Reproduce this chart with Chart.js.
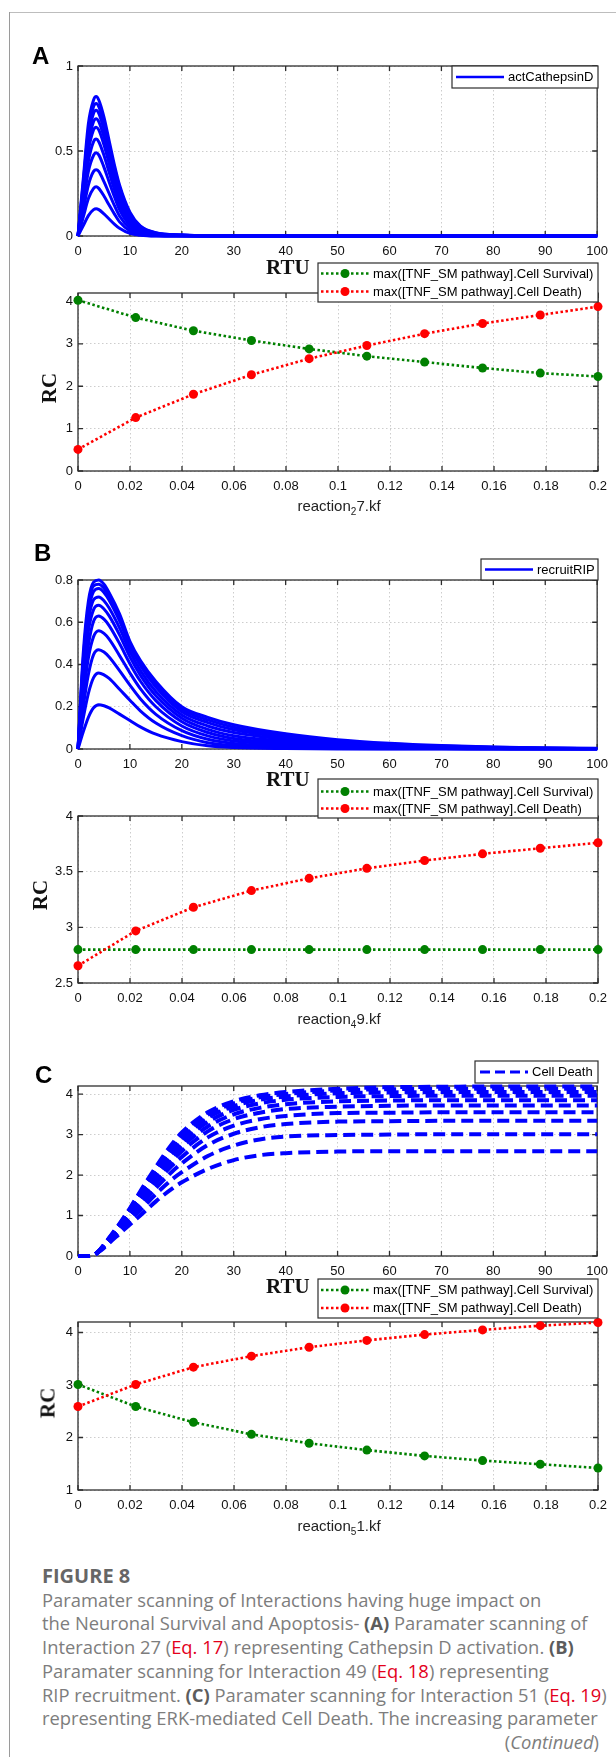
<!DOCTYPE html>
<html>
<head>
<meta charset="utf-8">
<script src="https://cdn.jsdelivr.net/npm/chart.js@4.4.1/dist/chart.umd.min.js"></script>
<style>
body { margin: 0; background: #fff; }
#page { position: relative; width: 616px; height: 1757px; overflow: hidden; background: #fff; }
#page canvas { position: absolute; left: 0; }
.rule-top { position: absolute; left: 9px; top: 12px; width: 607px; height: 1px; background: #bdbdbd; }
.rule-left { position: absolute; left: 9px; top: 12px; width: 1px; height: 1745px; background: #9a9a9a; }
.panel { position: absolute; font: bold 24px "Liberation Sans", Arial, sans-serif; line-height: 24px; color: #000; }
.rtu { position: absolute; left: 266px; font: bold 21px "Liberation Serif", serif; line-height: 21px; color: #111; }
.rc { position: absolute; font: bold 21px "Liberation Serif", serif; line-height: 21px; color: #111; transform: translate(-50%, -50%) rotate(-90deg); white-space: nowrap; }
.xl { position: absolute; left: 339px; font: 15px "Liberation Sans", Arial, sans-serif; line-height: 15px; color: #222; transform: translateX(-50%); white-space: nowrap; }
.xl sub { font-size: 10px; vertical-align: -4px; line-height: 0; }
.caption { position: absolute; left: 42px; top: 1564px; width: 557px; font: 18.4px "Open Sans", sans-serif; line-height: 23.7px; color: #7d7d7d; white-space: nowrap; }
.caption .fig { font-weight: 700; font-size: 20px; color: #666; }
.caption b { color: #5c5c5c; font-weight: 700; }
.caption .eq { color: #e3001b; }
.caption .cont { text-align: right; }
</style>
</head>
<body>
<div id="page">
  <div class="rule-top"></div>
  <div class="rule-left"></div>

  <canvas id="chartA1" width="616" height="222" style="top:40px"></canvas>
  <canvas id="chartA2" width="616" height="265" style="top:255px"></canvas>
  <canvas id="chartB1" width="616" height="240" style="top:540px"></canvas>
  <canvas id="chartB2" width="616" height="260" style="top:770px"></canvas>
  <canvas id="chartC1" width="616" height="240" style="top:1050px"></canvas>
  <canvas id="chartC2" width="616" height="260" style="top:1270px"></canvas>

  <div class="panel" style="left:32px;top:44px">A</div>
  <div class="panel" style="left:34px;top:541px">B</div>
  <div class="panel" style="left:35px;top:1063px">C</div>

  <div class="rtu" style="top:257px">RTU</div>
  <div class="rtu" style="top:769px">RTU</div>
  <div class="rtu" style="top:1276px">RTU</div>

  <div class="rc" style="left:49px;top:388px">RC</div>
  <div class="rc" style="left:40px;top:895px">RC</div>
  <div class="rc" style="left:48px;top:1403px">RC</div>

  <div class="xl" style="top:498px">reaction<sub>2</sub>7.kf</div>
  <div class="xl" style="top:1011px">reaction<sub>4</sub>9.kf</div>
  <div class="xl" style="top:1518px">reaction<sub>5</sub>1.kf</div>

  <div class="caption" id="caption">
    <div class="fig">FIGURE 8</div>
    <div>Paramater scanning of Interactions having huge impact on</div>
    <div>the Neuronal Survival and Apoptosis- <b>(A)</b> Paramater scanning of</div>
    <div>Interaction 27 (<span class="eq">Eq. 17</span>) representing Cathepsin D activation. <b>(B)</b></div>
    <div>Paramater scanning for Interaction 49 (<span class="eq">Eq. 18</span>) representing</div>
    <div>RIP recruitment. <b>(C)</b> Paramater scanning for Interaction 51 (<span class="eq">Eq. 19</span>)</div>
    <div><span id="longLine">representing ERK-mediated Cell Death. The increasing parameter</span></div>
    <div class="cont">(<i>Continued</i>)</div>
  </div>
</div>

<script>
/* TIME COURSES (top plots) */

const timeA = [0, 1, 2, 3, 3.5, 4, 5, 6, 7, 8, 10, 12, 15, 20, 25, 100];
const cathepsinRuns = [
  [0, 0.06, 0.12, 0.155, 0.16, 0.155, 0.13, 0.10, 0.07, 0.045, 0.015, 0.004, 0, 0, 0, 0],
  [0, 0.11, 0.22, 0.28, 0.29, 0.28, 0.235, 0.182, 0.13, 0.083, 0.03, 0.009, 0.001, 0, 0, 0],
  [0, 0.15, 0.30, 0.38, 0.39, 0.38, 0.32, 0.25, 0.18, 0.118, 0.045, 0.014, 0.003, 0.001, 0, 0],
  [0, 0.19, 0.38, 0.475, 0.49, 0.477, 0.405, 0.318, 0.232, 0.155, 0.062, 0.021, 0.005, 0.001, 0, 0],
  [0, 0.22, 0.44, 0.555, 0.57, 0.555, 0.475, 0.375, 0.275, 0.188, 0.078, 0.028, 0.007, 0.002, 0, 0],
  [0, 0.25, 0.50, 0.625, 0.64, 0.624, 0.537, 0.426, 0.315, 0.219, 0.094, 0.036, 0.01, 0.003, 0.001, 0],
  [0, 0.27, 0.54, 0.673, 0.69, 0.673, 0.583, 0.464, 0.346, 0.243, 0.107, 0.043, 0.012, 0.004, 0.001, 0],
  [0, 0.29, 0.58, 0.722, 0.74, 0.722, 0.628, 0.503, 0.377, 0.267, 0.12, 0.05, 0.015, 0.005, 0.001, 0],
  [0, 0.31, 0.62, 0.761, 0.78, 0.761, 0.664, 0.534, 0.402, 0.288, 0.131, 0.056, 0.018, 0.006, 0.002, 0],
  [0, 0.33, 0.66, 0.80, 0.82, 0.80, 0.70, 0.56, 0.42, 0.30, 0.14, 0.06, 0.02, 0.006, 0.002, 0]
];

const timeB = [0, 1, 2, 3, 4, 5, 6, 8, 10, 12, 15, 20, 25, 30, 40, 50, 60, 70, 80, 90, 100];
const recruitRuns = [
  [0, 0.08, 0.15, 0.195, 0.21, 0.205, 0.195, 0.165, 0.135, 0.105, 0.07, 0.035, 0.015, 0.007, 0.002, 0, 0, 0, 0, 0, 0],
  [0, 0.144, 0.263, 0.338, 0.36, 0.351, 0.334, 0.283, 0.231, 0.181, 0.123, 0.063, 0.030, 0.016, 0.007, 0.002, 0.001, 0.001, 0, 0, 0],
  [0, 0.197, 0.353, 0.447, 0.47, 0.459, 0.436, 0.371, 0.302, 0.238, 0.164, 0.087, 0.046, 0.026, 0.013, 0.006, 0.003, 0.002, 0.001, 0, 0],
  [0, 0.241, 0.431, 0.532, 0.56, 0.547, 0.52, 0.442, 0.36, 0.286, 0.2, 0.109, 0.062, 0.038, 0.021, 0.01, 0.006, 0.004, 0.002, 0.001, 0.001],
  [0, 0.284, 0.491, 0.605, 0.63, 0.615, 0.584, 0.499, 0.404, 0.322, 0.229, 0.129, 0.078, 0.05, 0.029, 0.015, 0.009, 0.006, 0.003, 0.002, 0.001],
  [0, 0.333, 0.558, 0.66, 0.68, 0.663, 0.63, 0.54, 0.436, 0.35, 0.252, 0.146, 0.093, 0.063, 0.037, 0.021, 0.013, 0.007, 0.004, 0.002, 0.001],
  [0, 0.367, 0.605, 0.706, 0.72, 0.702, 0.667, 0.573, 0.462, 0.372, 0.272, 0.161, 0.109, 0.078, 0.046, 0.027, 0.017, 0.009, 0.005, 0.003, 0.002],
  [0, 0.403, 0.646, 0.745, 0.76, 0.741, 0.704, 0.606, 0.487, 0.395, 0.293, 0.176, 0.125, 0.091, 0.055, 0.033, 0.021, 0.012, 0.007, 0.004, 0.002],
  [0, 0.421, 0.671, 0.772, 0.78, 0.761, 0.722, 0.623, 0.499, 0.407, 0.307, 0.188, 0.138, 0.103, 0.063, 0.038, 0.023, 0.014, 0.008, 0.005, 0.002],
  [0, 0.45, 0.70, 0.79, 0.80, 0.78, 0.74, 0.64, 0.51, 0.42, 0.32, 0.20, 0.15, 0.115, 0.072, 0.044, 0.027, 0.016, 0.009, 0.005, 0.003]
];

const timeC = [0, 2, 3, 4, 5, 6, 8, 10, 12, 15, 18, 20, 25, 30, 35, 40, 50, 60, 70, 80, 100];
const deathRuns = [
  [0, 0, 0.02, 0.1, 0.2, 0.32, 0.55, 0.78, 1.0, 1.35, 1.65, 1.82, 2.15, 2.37, 2.49, 2.54, 2.58, 2.59, 2.59, 2.59, 2.59],
  [0, 0, 0.02, 0.11, 0.22, 0.35, 0.61, 0.88, 1.13, 1.53, 1.88, 2.07, 2.47, 2.73, 2.88, 2.95, 2.99, 3.0, 3.01, 3.01, 3.01],
  [0, 0, 0.02, 0.11, 0.23, 0.37, 0.65, 0.95, 1.23, 1.68, 2.07, 2.29, 2.74, 3.02, 3.18, 3.26, 3.32, 3.33, 3.34, 3.34, 3.34],
  [0, 0, 0.02, 0.11, 0.24, 0.39, 0.68, 1.0, 1.31, 1.8, 2.22, 2.45, 2.93, 3.22, 3.38, 3.46, 3.53, 3.54, 3.55, 3.55, 3.55],
  [0, 0, 0.02, 0.11, 0.25, 0.4, 0.71, 1.04, 1.38, 1.9, 2.34, 2.59, 3.08, 3.38, 3.54, 3.63, 3.69, 3.71, 3.72, 3.72, 3.72],
  [0, 0, 0.02, 0.12, 0.26, 0.41, 0.73, 1.08, 1.44, 1.98, 2.44, 2.7, 3.2, 3.5, 3.66, 3.75, 3.82, 3.84, 3.85, 3.85, 3.85],
  [0, 0, 0.02, 0.12, 0.26, 0.42, 0.75, 1.11, 1.49, 2.05, 2.53, 2.8, 3.31, 3.61, 3.77, 3.86, 3.93, 3.95, 3.96, 3.96, 3.96],
  [0, 0, 0.02, 0.12, 0.27, 0.43, 0.77, 1.14, 1.53, 2.11, 2.61, 2.89, 3.41, 3.7, 3.86, 3.94, 4.02, 4.04, 4.05, 4.05, 4.05],
  [0, 0, 0.02, 0.12, 0.27, 0.44, 0.78, 1.16, 1.57, 2.16, 2.69, 2.98, 3.49, 3.77, 3.92, 4.0, 4.09, 4.12, 4.13, 4.13, 4.13],
  [0, 0, 0.02, 0.12, 0.28, 0.45, 0.8, 1.18, 1.6, 2.2, 2.75, 3.05, 3.55, 3.82, 3.97, 4.05, 4.13, 4.17, 4.18, 4.19, 4.19]
];

/* PARAMETER SCANS (bottom plots) */

const kfValues = [0, 0.0222, 0.0444, 0.0667, 0.0889, 0.1111, 0.1333, 0.1556, 0.1778, 0.2];
const survivalA = [4.03, 3.62, 3.31, 3.08, 2.88, 2.71, 2.57, 2.43, 2.31, 2.23];
const deathA = [0.51, 1.26, 1.81, 2.27, 2.65, 2.96, 3.24, 3.48, 3.68, 3.88];
const survivalB = [2.8, 2.8, 2.8, 2.8, 2.8, 2.8, 2.8, 2.8, 2.8, 2.8];
const deathB = [2.655, 2.968, 3.18, 3.33, 3.44, 3.53, 3.60, 3.66, 3.71, 3.76];
const survivalC = [3.01, 2.59, 2.29, 2.06, 1.89, 1.76, 1.65, 1.56, 1.49, 1.42];
const deathC = [2.59, 3.01, 3.34, 3.55, 3.72, 3.85, 3.96, 4.05, 4.13, 4.19];

/* TICKS AND LABELS */

const rtuTicks = [0, 10, 20, 30, 40, 50, 60, 70, 80, 90, 100];
const kfTicks = [0, 0.02, 0.04, 0.06, 0.08, 0.1, 0.12, 0.14, 0.16, 0.18, 0.2];
const yTicksA1 = [0, 0.5, 1];
const yTicksA2 = [0, 1, 2, 3, 4];
const yTicksB1 = [0, 0.2, 0.4, 0.6, 0.8];
const yTicksB2 = [2.5, 3, 3.5, 4];
const yTicksC1 = [0, 1, 2, 3, 4];
const yTicksC2 = [1, 2, 3, 4];

const seriesNames = ["actCathepsinD", "recruitRIP", "Cell Death"];
const scanNames = ["max([TNF_SM pathway].Cell Survival)", "max([TNF_SM pathway].Cell Death)"];

const PLOT_LEFT = 78;
const PLOT_RIGHT = 598;
const BLUE = "#0000ff";
const GREEN = "#008000";
const RED = "#ff0000";
const FONT = "'Liberation Sans', Arial, sans-serif";

/* CAPTION: longest line should run from x 42 to x 598 */

const longLine = document.getElementById("longLine");
const caption = document.getElementById("caption");
const capSize = 18.4 * 556 / longLine.getBoundingClientRect().width;
caption.style.fontSize = capSize.toFixed(2) + "px";

/* AXIS BOX WITH INWARD TICKS (matlab look) */

const frame = {
  id: "frame",
  beforeDatasetsDraw(chart) {
    const { ctx, chartArea: a, scales } = chart;
    ctx.save();
    ctx.strokeStyle = "#2e2e2e";
    ctx.lineWidth = 1.3;
    ctx.strokeRect(a.left, a.top, a.right - a.left, a.bottom - a.top);
    ctx.beginPath();
    scales.x.ticks.forEach(t => {
      const p = scales.x.getPixelForValue(t.value);
      ctx.moveTo(p, a.bottom); ctx.lineTo(p, a.bottom - 5);
      ctx.moveTo(p, a.top); ctx.lineTo(p, a.top + 5);
    });
    scales.y.ticks.forEach(t => {
      const p = scales.y.getPixelForValue(t.value);
      ctx.moveTo(a.left, p); ctx.lineTo(a.left + 5, p);
      ctx.moveTo(a.right, p); ctx.lineTo(a.right - 5, p);
    });
    ctx.stroke();
    ctx.restore();
  }
};

function legendPlugin(spec) {
  return {
    id: "boxLegend",
    afterDraw(chart) {
      const ctx = chart.ctx;
      ctx.save();
      ctx.fillStyle = "#fff";
      ctx.fillRect(spec.x, spec.y, spec.w, spec.h);
      ctx.strokeStyle = "#2e2e2e";
      ctx.lineWidth = 1.2;
      ctx.strokeRect(spec.x, spec.y, spec.w, spec.h);
      spec.items.forEach(it => {
        ctx.strokeStyle = it.color;
        ctx.lineWidth = it.width;
        ctx.setLineDash(it.dash);
        ctx.beginPath();
        ctx.moveTo(spec.x0, it.y);
        ctx.lineTo(spec.x1, it.y);
        ctx.stroke();
        ctx.setLineDash([]);
        if (it.marker) {
          ctx.fillStyle = it.color;
          ctx.beginPath();
          ctx.arc((spec.x0 + spec.x1) / 2, it.y, 4.5, 0, Math.PI * 2);
          ctx.fill();
        }
        ctx.fillStyle = "#000";
        ctx.font = "13px " + FONT;
        ctx.textBaseline = "middle";
        ctx.fillText(it.label, spec.tx, it.y + 0.5);
      });
      ctx.restore();
    }
  };
}

function axis(min, max, ticks, size, isX) {
  return {
    type: "linear",
    min: min,
    max: max,
    afterBuildTicks: s => { s.ticks = ticks.map(v => ({ value: v })); },
    afterFit: s => { if (isX) s.height = size; else s.width = size; },
    grid: { color: "#cdcdcd", lineWidth: 1, drawTicks: false, tickLength: 0 },
    border: { display: false, dash: [1.5, 2.5] },
    ticks: {
      autoSkip: false,
      maxRotation: 0,
      padding: isX ? 8 : 5,
      color: "#111",
      font: { family: FONT, size: 13 },
      callback: v => String(v)
    }
  };
}

function runDatasets(time, runs, dash, width) {
  return runs.map(r => ({
    data: time.map((t, i) => ({ x: t, y: r[i] })),
    borderColor: BLUE,
    borderWidth: width,
    borderDash: dash,
    pointRadius: 0,
    cubicInterpolationMode: "monotone",
    fill: false,
    clip: false
  }));
}

function scanDatasets(surv, death) {
  const one = (vals, color) => ({
    data: kfValues.map((k, i) => ({ x: k, y: vals[i] })),
    borderColor: color,
    backgroundColor: color,
    pointBackgroundColor: color,
    pointBorderWidth: 0,
    pointRadius: 4.5,
    borderWidth: 2.6,
    borderDash: [2.5, 2.5],
    tension: 0,
    fill: false,
    clip: false
  });
  /* death drawn last in matlab, so it sits on top */
  return [one(death, RED), one(surv, GREEN)];
}

function drawChart(id, o) {
  const canvas = document.getElementById(id);
  return new Chart(canvas, {
    type: "line",
    data: { datasets: o.datasets },
    options: {
      responsive: false,
      animation: false,
      events: [],
      layout: { padding: { left: 0, right: 616 - PLOT_RIGHT, top: o.plotTop, bottom: 0 } },
      scales: {
        x: axis(o.xMin, o.xMax, o.xTicks, canvas.height - o.plotBottom, true),
        y: axis(o.yMin, o.yMax, o.yTicks, PLOT_LEFT, false)
      },
      plugins: { legend: { display: false }, tooltip: { enabled: false } }
    },
    plugins: [frame, legendPlugin(o.legend)]
  });
}

function scanLegend(y, y1, y2) {
  return {
    x: 318, y: y, w: 280, h: 39, x0: 321, x1: 369, tx: 373,
    items: [
      { label: scanNames[0], color: GREEN, width: 2.6, dash: [2.5, 2.5], marker: true, y: y1 },
      { label: scanNames[1], color: RED, width: 2.6, dash: [2.5, 2.5], marker: true, y: y2 }
    ]
  };
}

/* PANEL A */

drawChart("chartA1", {
  datasets: runDatasets(timeA, cathepsinRuns, [], 3),
  xMin: 0, xMax: 100, xTicks: rtuTicks,
  yMin: 0, yMax: 1, yTicks: yTicksA1,
  plotTop: 26, plotBottom: 196,
  legend: { x: 452, y: 26, w: 146, h: 22, x0: 456, x1: 504, tx: 508,
    items: [{ label: seriesNames[0], color: BLUE, width: 2.5, dash: [], y: 37 }] }
});

drawChart("chartA2", {
  datasets: scanDatasets(survivalA, deathA),
  xMin: 0, xMax: 0.2, xTicks: kfTicks,
  yMin: 0, yMax: 4.2, yTicks: yTicksA2,
  plotTop: 38, plotBottom: 216,
  legend: scanLegend(8, 18.5, 36.5)
});

/* PANEL B */

drawChart("chartB1", {
  datasets: runDatasets(timeB, recruitRuns, [], 3),
  xMin: 0, xMax: 100, xTicks: rtuTicks,
  yMin: 0, yMax: 0.8, yTicks: yTicksB1,
  plotTop: 40, plotBottom: 209,
  legend: { x: 481, y: 19, w: 117, h: 21, x0: 485, x1: 533, tx: 537,
    items: [{ label: seriesNames[1], color: BLUE, width: 2.5, dash: [], y: 29.5 }] }
});

drawChart("chartB2", {
  datasets: scanDatasets(survivalB, deathB),
  xMin: 0, xMax: 0.2, xTicks: kfTicks,
  yMin: 2.5, yMax: 4, yTicks: yTicksB2,
  plotTop: 46, plotBottom: 213,
  legend: scanLegend(9, 21.5, 38.5)
});

/* PANEL C */

drawChart("chartC1", {
  datasets: runDatasets(timeC, deathRuns, [12, 6], 4),
  xMin: 0, xMax: 100, xTicks: rtuTicks,
  yMin: 0, yMax: 4.2, yTicks: yTicksC1,
  plotTop: 36, plotBottom: 206,
  legend: { x: 475, y: 11, w: 123, h: 22, x0: 480, x1: 528, tx: 532,
    items: [{ label: seriesNames[2], color: BLUE, width: 3, dash: [10, 5], y: 22 }] }
});

drawChart("chartC2", {
  datasets: scanDatasets(survivalC, deathC),
  xMin: 0, xMax: 0.2, xTicks: kfTicks,
  yMin: 1, yMax: 4.2, yTicks: yTicksC2,
  plotTop: 52, plotBottom: 220,
  legend: scanLegend(9, 20, 38)
});
</script>
</body>
</html>
